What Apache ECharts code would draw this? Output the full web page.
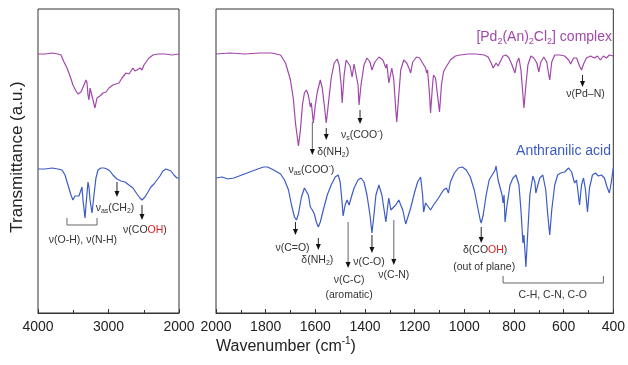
<!DOCTYPE html>
<html><head><meta charset="utf-8">
<script src="https://cdn.jsdelivr.net/npm/echarts@6/dist/echarts.min.js"></script>
<style>html,body{margin:0;padding:0;background:#fff}#c{width:628px;height:365px}</style>
</head><body><div id="c"></div>
<script>
// ---- Data (wavenumber cm^-1, transmittance in arbitrary units) ----
const leftComplexWn = [4000,3901,3801,3716,3674,3631,3589,3546,3504,3461,3433,3390,3348,3319,3305,3291,3277,3262,3248,3220,3192,3163,3121,3078,3036,2993,2937,2894,2851,2809,2752,2710,2681,2653,2625,2596,2554,2525,2497,2469,2426,2369,2298,2199,2100,2000];
const leftComplexT  = [259,259,260,259,258,251,245,237,228,222,219,221,228,233,230,218,213,225,223,213,205,215,217,220,221,225,228,229,230,235,240,239,242,245,242,243,245,243,248,250,255,258,259,259,258,259];

const leftAcidWn = [4000,3901,3801,3716,3660,3617,3575,3532,3504,3475,3447,3419,3390,3376,3362,3333,3319,3291,3277,3262,3234,3206,3178,3149,3107,3064,3022,2979,2937,2880,2823,2766,2710,2653,2596,2554,2525,2483,2440,2398,2355,2313,2270,2228,2185,2157,2114,2072,2029,2000];
const leftAcidT  = [144,144,145,144,143,138,128,118,113,117,119,117,123,126,113,95,108,131,126,113,100,118,135,143,145,145,144,142,138,134,132,131,128,125,119,115,113,116,121,126,129,133,137,142,144,145,142,138,135,135];

const rightComplexWn = [2000,1944,1884,1824,1776,1740,1720,1700,1688,1680,1668,1660,1652,1644,1636,1628,1620,1616,1608,1600,1592,1580,1572,1564,1556,1548,1536,1524,1512,1504,1496,1492,1484,1476,1468,1460,1452,1444,1436,1428,1424,1416,1404,1392,1380,1372,1360,1344,1328,1316,1312,1304,1292,1284,1276,1272,1264,1256,1244,1232,1220,1216,1208,1192,1180,1168,1156,1152,1148,1140,1136,1128,1124,1116,1108,1100,1092,1084,1076,1068,1056,1036,1016,984,952,920,904,892,884,872,864,856,844,832,820,808,796,788,780,772,764,760,752,744,732,720,708,700,692,680,668,660,656,648,636,616,596,580,572,560,548,536,528,520,508,492,476,464,452,440,428,416,400];
const rightComplexT  = [259,260,259,260,260,258,250,233,213,190,167,183,208,220,223,218,206,210,190,208,221,233,225,208,190,208,235,250,254,248,228,210,238,253,253,247,236,249,251,228,208,228,248,255,251,243,251,256,253,245,249,230,245,233,203,191,218,243,253,250,243,240,251,256,255,250,245,240,243,218,200,228,238,235,218,201,228,241,245,243,253,257,258,259,259,258,256,250,245,250,247,251,257,258,255,248,240,251,255,243,218,205,228,248,257,255,250,241,251,256,251,238,233,251,258,258,257,253,249,255,255,247,243,249,255,257,255,257,253,257,255,258,257];

const rightAcidWn = [2000,1976,1952,1928,1896,1864,1832,1808,1792,1768,1740,1724,1708,1696,1684,1676,1668,1656,1644,1636,1628,1620,1612,1604,1596,1588,1580,1568,1552,1536,1520,1508,1500,1492,1488,1480,1472,1464,1456,1444,1428,1416,1404,1392,1380,1372,1364,1356,1344,1332,1320,1316,1308,1304,1296,1288,1276,1264,1256,1248,1236,1228,1216,1200,1188,1176,1168,1164,1156,1148,1136,1124,1104,1084,1072,1064,1056,1040,1024,1008,992,976,960,948,936,932,924,912,900,888,876,872,864,856,848,844,840,836,828,816,804,792,780,772,764,760,752,744,736,724,716,712,704,696,684,672,664,656,648,636,624,612,596,580,568,556,548,536,528,520,512,504,496,484,472,460,448,436,424,416,408,400];
const rightAcidT  = [135,136,134,135,138,141,144,146,146,143,139,133,123,108,96,93,99,116,125,125,118,106,103,99,91,86,91,103,118,128,136,138,131,110,97,108,113,108,115,125,133,135,131,118,98,80,98,118,128,118,98,91,108,115,103,101,108,113,115,103,89,91,105,121,131,136,118,101,110,112,103,108,115,123,125,120,131,140,145,146,143,136,123,108,93,90,98,118,133,138,143,147,133,135,118,110,118,91,108,128,135,138,128,103,70,78,46,83,118,137,131,120,128,135,138,123,98,78,103,128,138,140,141,145,141,130,133,108,128,135,123,101,125,138,140,137,138,135,125,120,131,145];

const leftTicks  = {min: 2000, max: 4000, interval: 1000};
const rightTicks = {min: 400, max: 2000, interval: 200};

// Annotations: [grid, wn, arrowFromT, arrowToT, colour]
const arrows = [
  [1, 524, 238, 226, '#222'],
  [1, 1420, 203, 189, '#222'],
  [1, 1556, 185, 173, '#222'],
  [1, 1612, 191, 158, '#666'],
  [1, 1680, 91, 78, '#222'],
  [1, 1588, 75, 63, '#222'],
  [1, 1468, 91, 45, '#666'],
  [1, 1372, 78, 60, '#222'],
  [1, 1284, 93, 48, '#666'],
  [1, 932, 86, 70, '#222'],
  [0, 2880, 131, 116, '#222'],
  [0, 2525, 108, 93, '#222']
];
// labels: [grid, wn, T, rich text]
const labels = [
  [1, 512, 219, '{a|ν(Pd–N)}'],
  [1, 1412, 178, '{a|ν}{sub|s}{a|(COO}{sup|-}{a|)}'],
  [1, 1528, 161, '{a|δ(NH}{sub|2}{a|)}'],
  [1, 1616, 143, '{a|ν}{sub|as}{a|(COO}{sup|-}{a|)}'],
  [1, 1692, 65, '{a|ν(C=O)}'],
  [1, 1592, 53, '{a|δ(NH}{sub|2}{a|)}'],
  [1, 1464, 33, '{a|ν(C-C)}'],
  [1, 1464, 18, '{a|(aromatic)}'],
  [1, 1384, 51, '{a|ν(C-O)}'],
  [1, 1284, 38, '{a|ν(C-N)}'],
  [1, 916, 63, '{a|δ(CO}{r|OH}{a|)}'],
  [1, 920, 46, '{a|(out of plane)}'],
  [1, 644, 18, '{a|C-H, C-N, C-O}'],
  [0, 2908, 105, '{a|ν}{sub|as}{a|(CH}{sub|2}{a|)}'],
  [0, 2483, 83, '{a|ν(CO}{r|OH}{a|)}'],
  [0, 3362, 73, '{a|ν(O-H), ν(N-H)}']
];
// brackets: [grid, wnFrom, wnTo, T, tipT]
const brackets = [
  [1, 844, 440, 30, 37],
  [0, 3589, 3163, 88, 95]
];

const purple = '#a247aa', blue = '#3c5cc4';
const chart = echarts.init(document.getElementById('c'));
const pairs = (w, t) => w.map((x, i) => [x, t[i]]);
const xAx = (gi, tk) => ({
  gridIndex: gi, type: 'value', inverse: true, min: tk.min, max: tk.max, interval: tk.interval,
  axisLine: {show: true, lineStyle: {color: '#333', width: 1}},
  axisTick: {show: true, inside: true, length: 4, lineStyle: {color: '#333'}},
  minorTick: {show: true, splitNumber: 2, length: 3, lineStyle: {color: '#333'}},
  splitLine: {show: false}, minorSplitLine: {show: false},
  axisLabel: {fontSize: 14, color: '#222', margin: 7, fontFamily: 'Liberation Sans, Arial', showMinLabel: true, showMaxLabel: true,
    formatter: v => String(v)}
});
const yAx = gi => ({gridIndex: gi, type: 'value', min: 0, max: 304, show: false});
const lineS = (xi, data, color) => ({
  type: 'line', xAxisIndex: xi, yAxisIndex: xi, data, showSymbol: false, symbol: 'none',
  lineStyle: {color, width: 1.2}, silent: true, animation: false
});
chart.setOption({
  animation: false,
  grid: [
    {left: 38, top: 9, width: 141, height: 304, show: true, borderColor: '#333', borderWidth: 1},
    {left: 216, top: 9, width: 400, height: 304, show: true, borderColor: '#333', borderWidth: 1}
  ],
  xAxis: [xAx(0, leftTicks), xAx(1, rightTicks)],
  yAxis: [yAx(0), yAx(1)],
  series: [
    lineS(0, pairs(leftComplexWn, leftComplexT), purple),
    lineS(0, pairs(leftAcidWn, leftAcidT), blue),
    lineS(1, pairs(rightComplexWn, rightComplexT), purple),
    lineS(1, pairs(rightAcidWn, rightAcidT), blue)
  ]
});

const px = (gi, wn, t) => chart.convertToPixel({gridIndex: gi}, [wn, t]);
const FF = 'Liberation Sans, Arial, sans-serif';
const rich = {
  a: {fontSize: 10.5, fontFamily: FF, fill: '#333', lineHeight: 14},
  r: {fontSize: 10.5, fontFamily: FF, fill: '#e02020', lineHeight: 14},
  sub: {fontSize: 7, fontFamily: FF, fill: '#333', lineHeight: 6, verticalAlign: 'bottom'},
  sup: {fontSize: 7, fontFamily: FF, fill: '#333', lineHeight: 6, verticalAlign: 'top'}
};
const g = [];
arrows.forEach(([gi, wn, t1, t2, col]) => {
  const a = px(gi, wn, t1), b = px(gi, wn, t2);
  g.push({type: 'line', shape: {x1: a[0], y1: a[1], x2: b[0], y2: b[1] - 5}, style: {stroke: col, lineWidth: 1}});
  g.push({type: 'polygon', shape: {points: [[b[0] - 2.5, b[1] - 6], [b[0] + 2.5, b[1] - 6], [b[0], b[1]]]}, style: {fill: '#111'}});
});
brackets.forEach(([gi, w1, w2, t, tt]) => {
  const a = px(gi, w1, t), b = px(gi, w2, t), c = px(gi, w1, tt);
  g.push({type: 'polyline', shape: {points: [[a[0], c[1]], a, b, [b[0], c[1]]]}, style: {stroke: '#666', lineWidth: 1, fill: null}});
});
labels.forEach(([gi, wn, t, txt]) => {
  const p = px(gi, wn, t);
  g.push({type: 'text', style: {text: txt, x: p[0], y: p[1], align: 'center', verticalAlign: 'middle', rich}});
});
// series names
g.push({type: 'text', style: {
  text: '{p|[Pd}{ps|2}{p|(An)}{ps|2}{p|Cl}{ps|2}{p|] complex}', x: 612, y: 37, align: 'right', verticalAlign: 'middle',
  rich: {p: {fontSize: 14, fontFamily: FF, fill: purple, lineHeight: 18}, ps: {fontSize: 9, fontFamily: FF, fill: purple, lineHeight: 8, verticalAlign: 'bottom'}}
}});
g.push({type: 'text', style: {text: 'Anthranilic acid', x: 611, y: 151, align: 'right', verticalAlign: 'middle', fontSize: 14, fontFamily: FF, fill: blue}});
// axis names
g.push({type: 'text', style: {
  text: '{x|Wavenumber (cm}{s|-1}{x|)}', x: 286, y: 347, align: 'center', verticalAlign: 'middle',
  rich: {x: {fontSize: 16, fontFamily: FF, fill: '#222', lineHeight: 22}, s: {fontSize: 10, fontFamily: FF, fill: '#222', lineHeight: 10, verticalAlign: 'top'}}
}});
g.push({type: 'text', rotation: Math.PI / 2, x: 17, y: 157, style: {
  text: 'Transmittance (a.u.)', x: 0, y: 0, align: 'center', verticalAlign: 'middle', fontSize: 17, fontFamily: FF, fill: '#222'
}});
chart.setOption({graphic: g});
</script></body></html>
